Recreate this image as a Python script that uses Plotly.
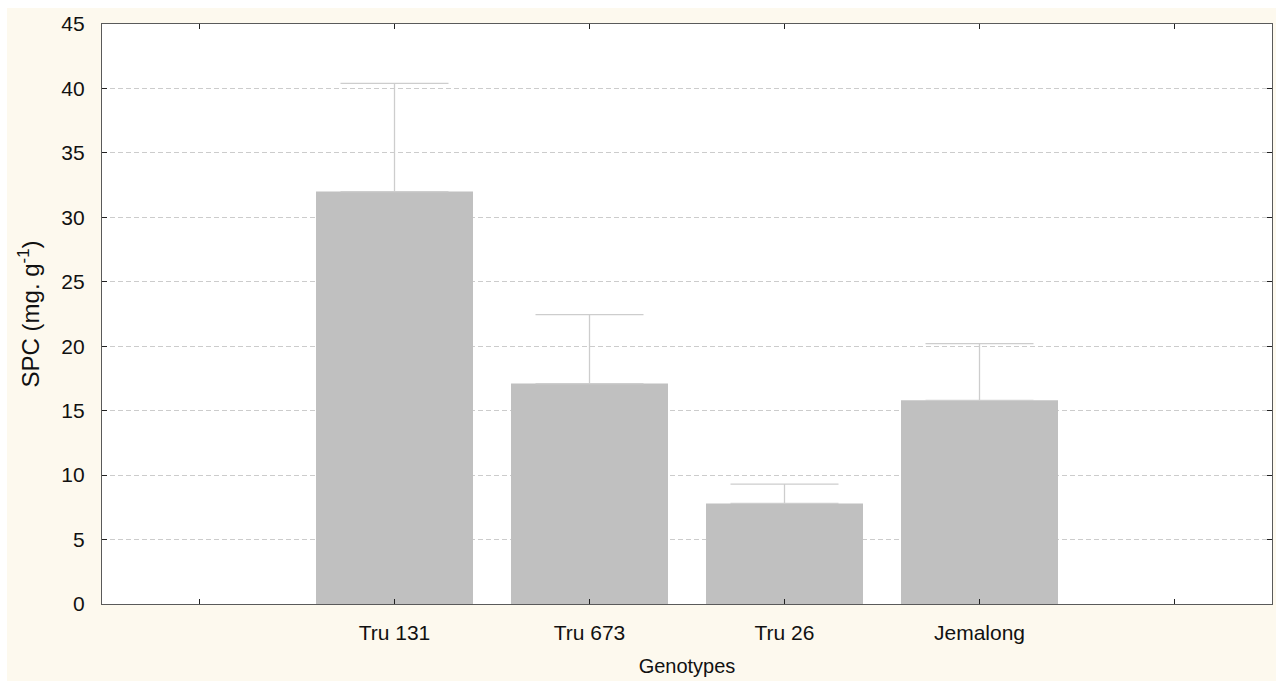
import plotly.graph_objects as go

# Soluble protein content per genotype (mean and upper error)
genotypes = ["Tru 131", "Tru 673", "Tru 26", "Jemalong"]
spc_mean = [32.0, 17.1, 7.8, 15.8]
spc_err = [8.4, 5.35, 1.5, 4.4]
y_ticks = [0, 5, 10, 15, 20, 25, 30, 35, 40, 45]

# empty slot on each side of the genotypes on the category axis
positions = list(range(1, len(genotypes) + 1))
edge_positions = [0, len(genotypes) + 1]

W, H = 1276, 682
ML, MR, MT, MB = 102, 4, 24, 78
font_family = "Liberation Sans, Arial, sans-serif"

fig = go.Figure()
fig.add_trace(go.Bar(
    x=positions,
    y=spc_mean,
    width=0.805,
    marker=dict(color="#c0c0c0", line=dict(width=0)),
    error_y=dict(
        type="data",
        symmetric=False,
        array=spc_err,
        arrayminus=[0] * len(spc_err),
        color="#cdcdcd",
        thickness=1.3,
        width=54,
    ),
    showlegend=False,
))

axis_common = dict(
    showline=True,
    linecolor="#5a5a5a",
    linewidth=1.3,
    mirror="ticks",
    ticks="inside",
    ticklen=5,
    tickcolor="#222222",
    tickwidth=1,
    zeroline=False,
    tickfont=dict(family=font_family, size=21, color="#111111"),
)

fig.update_layout(
    width=W,
    height=H,
    margin=dict(l=ML, r=MR, t=MT, b=MB, pad=0),
    paper_bgcolor="#fdf9ee",
    plot_bgcolor="#ffffff",
    font=dict(family=font_family, size=20, color="#111111"),
    xaxis=dict(
        axis_common,
        range=[-0.5, len(genotypes) + 1.5],
        tickmode="array",
        tickvals=positions,
        ticktext=genotypes,
        minor=dict(tickmode="array", tickvals=edge_positions, ticks="inside",
                   ticklen=5, tickcolor="#222222", tickwidth=1, showgrid=False),
        showgrid=False,
        ticklabelstandoff=10,
        title=dict(text="Genotypes", font=dict(family=font_family, size=20, color="#111111"), standoff=15),
    ),
    yaxis=dict(
        axis_common,
        range=[0, 45],
        tickmode="array",
        tickvals=y_ticks,
        showgrid=True,
        gridcolor="#cccccc",
        gridwidth=1,
        griddash="5px,3px",
        ticklabelstandoff=12,
        title=dict(text="SPC (mg. g<sup>-1</sup>)", font=dict(family=font_family, size=24, color="#111111"), standoff=14),
    ),
)

# white frame strips along the left, top and bottom edges of the page
px_w = W - ML - MR
px_h = H - MT - MB
def px_to_paper_x(px):
    return (px - ML) / px_w
def px_to_paper_y(py):
    return (H - MB - py) / px_h

strips = [
    (0, 0, 7, H),
    (0, 0, W, 8),
    (0, 681, W, H),
]
for x0, y0, x1, y1 in strips:
    fig.add_shape(
        type="rect", xref="paper", yref="paper",
        x0=px_to_paper_x(x0), x1=px_to_paper_x(x1),
        y0=px_to_paper_y(y1), y1=px_to_paper_y(y0),
        fillcolor="#ffffff", line=dict(width=0), layer="below",
    )

fig.write_html("out.html")
